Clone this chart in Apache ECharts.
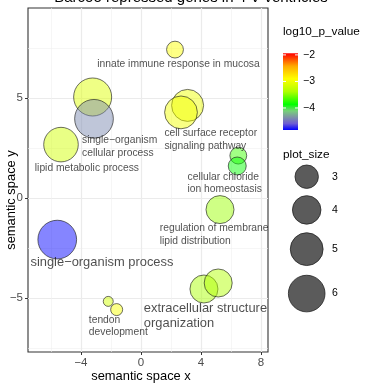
<!DOCTYPE html>
<html><head><meta charset="utf-8">
<script src="https://cdn.jsdelivr.net/npm/echarts@6/dist/echarts.min.js"></script>
<style>html,body{margin:0;padding:0;background:#fff}#c{width:368px;height:385px}</style>
</head><body><div id="c"></div>
<script>
// ---- data ----
const termIds   = ['a','b','c','d','e','f','g','h','i','j','k','l','m','n'];
const semX      = [2.27,-3.22,-3.13,-5.33,3.11,2.67,6.49,6.42,5.27,-5.58,4.20,5.15,-2.18,-1.62];
const semY      = [7.42,5.05,3.96,2.67,4.63,4.28,2.12,1.60,-0.58,-2.08,-4.55,-4.25,-5.17,-5.58];
const log10P    = [-2.92,-3.10,-4.40,-3.18,-3.00,-2.98,-3.70,-3.87,-3.44,-4.83,-3.40,-3.36,-3.18,-2.95];
const plotSize  = [2.0,6.4,6.6,5.45,4.8,5.0,2.0,2.15,3.9,6.6,3.9,3.9,1.3,1.47];

const labelText = ['innate immune response in mucosa','single\u2212organism\ncellular process','cell surface receptor\nsignaling pathway','lipid metabolic process','cellular chloride\nion homeostasis','regulation of membrane\nlipid distribution','single\u2212organism process','extracellular structure\norganization','tendon\ndevelopment'];
const labelX    = [-2.95,-3.96,1.53,-7.11,3.07,1.22,-7.40,0.16,-3.51];
const labelY    = [6.70,2.57,2.92,1.50,0.74,-1.83,-3.22,-5.90,-6.40];
const labelBig  = [false,false,false,false,false,false,true,true,false];

const xTicks = [-4,0,4,8];
const xMinor = [-6,-2,2,6];
const yTicks = [-5,0,5];
const yMinor = [-7.5,-2.5,2.5,7.5];
const colorTicks = [-2,-3,-4];
const sizeKeys = [3,4,5,6];
const pMin = -4.83, pMax = -1.94;
const xMin = -7.53, xMax = 8.47, yMin = -7.7, yMax = 9.5;

const titleText = 'Barcoo repressed genes in 4 V ventricles';

// ---- style ----
const FONT = '"Liberation Sans", Arial, sans-serif';
const gradColors = ['#0000ff','#6d5cd4','#7e93a6','#77d279','#00ff00','#57ff00','#aeff00','#d7ff00','#ffff00','#ffd500','#ffaa00','#ff5500','#ff0000'];
function diam(v){ return 2*Math.sqrt(Math.max(66*v-61,4)); }
function fmt(v){ return v<0 ? '\u2212'+Math.abs(v) : String(v); }

const chart = echarts.init(document.getElementById('c'), null, {renderer:'canvas'});

const cb = {x:283, y:53.3, w:15, h:76.7};
const gStops = gradColors.map((c,i)=>({offset:1-i/(gradColors.length-1), color:c})).sort((a,b)=>a.offset-b.offset);
const graphics = [];
graphics.push({type:'text', position:[191,5], style:{text:titleText, fill:'#000', font:'15px '+FONT, textAlign:'center', textVerticalAlign:'bottom'}});
graphics.push({type:'text', position:[141,376], style:{text:'semantic space x', fill:'#000', font:'12.9px '+FONT, textAlign:'center', textVerticalAlign:'middle'}});
graphics.push({type:'text', position:[11,200], rotation:Math.PI/2, style:{text:'semantic space y', fill:'#000', font:'12.9px '+FONT, textAlign:'center', textVerticalAlign:'middle'}});
graphics.push({type:'text', position:[283,32], style:{text:'log10_p_value', fill:'#000', font:'11.8px '+FONT, textAlign:'left', textVerticalAlign:'middle'}});
graphics.push({type:'rect', shape:{x:cb.x,y:cb.y,width:cb.w,height:cb.h}, style:{fill:{type:'linear',x:0,y:0,x2:0,y2:1,colorStops:gStops}}});
colorTicks.forEach(t=>{
  const yy = cb.y + (pMax - t)/(pMax-pMin)*cb.h;
  graphics.push({type:'line', shape:{x1:cb.x,y1:yy,x2:cb.x+3,y2:yy}, style:{stroke:'#fff',lineWidth:1}});
  graphics.push({type:'line', shape:{x1:cb.x+cb.w-3,y1:yy,x2:cb.x+cb.w,y2:yy}, style:{stroke:'#fff',lineWidth:1}});
  graphics.push({type:'text', position:[303,yy], style:{text:fmt(t), fill:'#000', font:'10.5px '+FONT, textAlign:'left', textVerticalAlign:'middle'}});
});
graphics.push({type:'text', position:[283,155], style:{text:'plot_size', fill:'#000', font:'11.8px '+FONT, textAlign:'left', textVerticalAlign:'middle'}});
let ky = 176.7;
sizeKeys.forEach((s,i)=>{
  if(i>0) ky += 1.28*(diam(sizeKeys[i-1])+diam(s))/2;
  graphics.push({type:'circle', shape:{cx:306.7, cy:ky, r:diam(s)/2}, style:{fill:'#5b5b5b', stroke:'#222', lineWidth:0.8}});
  graphics.push({type:'text', position:[332,ky], style:{text:String(s), fill:'#000', font:'10.5px '+FONT, textAlign:'left', textVerticalAlign:'middle'}});
});

const points = termIds.map((id,i)=>({name:id, value:[semX[i], semY[i], log10P[i], plotSize[i]]}));
const labels = labelText.map((t,i)=>({value:[labelX[i], labelY[i]], label:{formatter:t, fontSize: labelBig[i]?12.9:10.3, lineHeight: labelBig[i]?15.7:12.5}}));

chart.setOption({
  animation:false,
  textStyle:{fontFamily:FONT},
  grid:{left:28, right:100, top:8, bottom:33, show:true, borderColor:'#333', borderWidth:1.1, backgroundColor:'#fff'},
  xAxis:[
    {type:'value', min:xMin, max:xMax, position:'bottom',
     axisLine:{show:false, onZero:false}, axisTick:{show:true, length:3, customValues:xTicks, lineStyle:{color:'#333'}},
     axisLabel:{customValues:xTicks, formatter:fmt, color:'#4d4d4d', fontSize:11.5, margin:5},
     splitLine:{show:true, lineStyle:{color:'#ebebeb', width:1.2}}},
    {type:'value', min:xMin, max:xMax, position:'bottom',
     axisLine:{show:false, onZero:false}, axisTick:{show:false, customValues:xMinor}, axisLabel:{show:false, customValues:xMinor},
     splitLine:{show:true, lineStyle:{color:'#f0f0f0', width:0.6}}}
  ],
  yAxis:[
    {type:'value', min:yMin, max:yMax, position:'left',
     axisLine:{show:false, onZero:false}, axisTick:{show:true, length:3, customValues:yTicks, lineStyle:{color:'#333'}},
     axisLabel:{customValues:yTicks, formatter:fmt, color:'#4d4d4d', fontSize:11.5, margin:5},
     splitLine:{show:true, lineStyle:{color:'#ebebeb', width:1.2}}},
    {type:'value', min:yMin, max:yMax, position:'left',
     axisLine:{show:false, onZero:false}, axisTick:{show:false, customValues:yMinor}, axisLabel:{show:false, customValues:yMinor},
     splitLine:{show:true, lineStyle:{color:'#f0f0f0', width:0.6}}}
  ],
  visualMap:[{type:'continuous', show:false, min:pMin, max:pMax, dimension:2, seriesIndex:0,
    inRange:{color:gradColors, colorAlpha:[0.6,0.6]}}],
  series:[
    {type:'scatter', xAxisIndex:0, yAxisIndex:0, data:points, symbol:'circle',
     symbolSize:(v)=>diam(v[3]),
     itemStyle:{borderColor:'#1a1a1a', borderWidth:0.8}, z:3},
    {type:'scatter', xAxisIndex:0, yAxisIndex:0, data:labels, symbolSize:1, itemStyle:{color:'rgba(0,0,0,0)'}, silent:true, z:4,
     label:{show:true, position:'right', distance:0, align:'left', verticalAlign:'middle', color:'#1f1f1f', fontFamily:FONT}}
  ],
  graphic:graphics
});
</script></body></html>
